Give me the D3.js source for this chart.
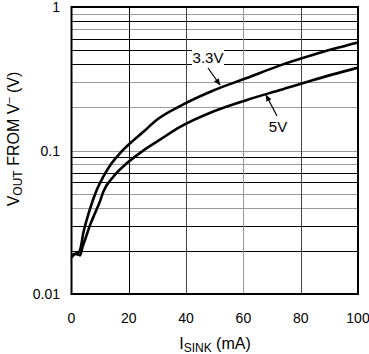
<!DOCTYPE html>
<html>
<head>
<meta charset="utf-8">
<script src="https://cdn.jsdelivr.net/npm/d3@7"></script>
<style>
  body { margin: 0; background: #fff; }
  text { font-family: "Liberation Sans", Arial, sans-serif; fill: #000; }
</style>
</head>
<body>
<div class="canvas"></div>
<script>
// data
const xTicks = [0, 20, 40, 60, 80, 100];
const yTicks = [0.01, 0.1, 1];
const yTickLabels = ['0.01', '0.1', '1'];
const minorY = [0.02, 0.03, 0.04, 0.05, 0.06, 0.07, 0.08, 0.09, 0.1, 0.2, 0.3, 0.4, 0.5, 0.6, 0.7, 0.8, 0.9];

const sink33 = [0, 1, 2.4, 3.3, 4.1, 5.3, 7.1, 8.8, 11.1, 14.0, 16.9, 20.4, 25.1, 29.7, 37.9, 49.5, 61.2, 72.8, 84.4, 100];
const vout33 = [0.0185, 0.0190, 0.0194, 0.0214, 0.0265, 0.0328, 0.0429, 0.0531, 0.0657, 0.0814, 0.0956, 0.112, 0.135, 0.163, 0.204, 0.262, 0.320, 0.392, 0.465, 0.565];

const sink5 = [0, 1.5, 3.0, 3.9, 5.1, 6.5, 8.2, 9.9, 11.1, 14.6, 19.3, 25.1, 30.9, 37.9, 49.5, 61.2, 72.8, 84.4, 100];
const vout5 = [0.0180, 0.0190, 0.0186, 0.0214, 0.0251, 0.0303, 0.0365, 0.0440, 0.0516, 0.0657, 0.0814, 0.100, 0.119, 0.146, 0.187, 0.225, 0.264, 0.310, 0.378];

const svg = d3.select('.canvas')
    .append('svg')
    .attr('width', 369)
    .attr('height', 354);

const x = d3.scaleLinear().domain([0, 100]).range([71.5, 358]);
const y = d3.scaleLog().domain([0.01, 1]).range([294, 7]);

// grid colours alternate black / grey like the scanned original
const greyY = [0.9, 0.7, 0.3, 0.2, 0.1, 0.08, 0.05, 0.04];
const gridColour = v => greyY.some(g => Math.abs(g - v) < 1e-9) ? '#9a9a9a' : '#000';

const grid = svg.append('g');
grid.selectAll('line.h')
    .data(minorY)
    .enter().append('line')
    .attr('x1', x(0)).attr('x2', x(100))
    .attr('y1', d => Math.round(y(d)) + 0.5)
    .attr('y2', d => Math.round(y(d)) + 0.5)
    .attr('stroke', d => gridColour(d))
    .attr('stroke-width', 1);

grid.selectAll('line.v')
    .data(xTicks.slice(1, -1))
    .enter().append('line')
    .attr('x1', d => Math.round(x(d)) + 0.5)
    .attr('x2', d => Math.round(x(d)) + 0.5)
    .attr('y1', y(1)).attr('y2', y(0.01))
    .attr('stroke', d => d === 60 ? '#9a9a9a' : (d === 20 ? '#000' : '#444'))
    .attr('stroke-width', 1);

// frame
svg.append('rect')
    .attr('x', x(0)).attr('y', y(1))
    .attr('width', x(100) - x(0))
    .attr('height', y(0.01) - y(1))
    .attr('fill', 'none')
    .attr('stroke', '#000')
    .attr('stroke-width', 2);

// tick labels
svg.append('g').selectAll('text')
    .data(xTicks)
    .enter().append('text')
    .attr('x', d => x(d))
    .attr('y', 323)
    .attr('text-anchor', 'middle')
    .attr('font-size', 14)
    .text(d => d);

svg.append('g').selectAll('text')
    .data(yTicks)
    .enter().append('text')
    .attr('x', 60)
    .attr('y', d => y(d) + 5)
    .attr('text-anchor', 'end')
    .attr('font-size', 14)
    .text((d, i) => yTickLabels[i]);

// axis titles
const xt = svg.append('text')
    .attr('x', 215)
    .attr('y', 349)
    .attr('text-anchor', 'middle')
    .attr('font-size', 16);
xt.append('tspan').text('I');
xt.append('tspan').attr('font-size', 12).attr('dy', 3).text('SINK');
xt.append('tspan').attr('dy', -3).text(' (mA)');

const yt = svg.append('text')
    .attr('transform', 'translate(19,139) rotate(-90)')
    .attr('text-anchor', 'middle')
    .attr('font-size', 16);
yt.append('tspan').text('V');
yt.append('tspan').attr('font-size', 12).attr('dy', 3).text('OUT');
yt.append('tspan').attr('dy', -3).text(' FROM V');
yt.append('tspan').attr('font-size', 11).attr('dy', -7).text('\u2013');
yt.append('tspan').attr('dy', 7).text(' (V)');

// curves
const line = d3.line()
    .x(d => x(d[0]))
    .y(d => y(d[1]))
    .curve(d3.curveMonotoneX);

svg.append('path')
    .datum(sink33.map((s, i) => [s, vout33[i]]))
    .attr('d', line)
    .attr('fill', 'none')
    .attr('stroke', '#000')
    .attr('stroke-width', 2.6);

svg.append('path')
    .datum(sink5.map((s, i) => [s, vout5[i]]))
    .attr('d', line)
    .attr('fill', 'none')
    .attr('stroke', '#000')
    .attr('stroke-width', 2.6);

// labels with arrows
svg.append('defs').append('marker')
    .attr('id', 'arr')
    .attr('viewBox', '0 0 10 10')
    .attr('refX', 9).attr('refY', 5)
    .attr('markerWidth', 7).attr('markerHeight', 7)
    .attr('markerUnits', 'userSpaceOnUse')
    .attr('orient', 'auto')
    .append('path')
    .attr('d', 'M0,1L10,5L0,9Z')
    .attr('fill', '#000');

svg.append('rect').attr('x', 192).attr('y', 47).attr('width', 32).attr('height', 19).attr('fill', '#fff');
svg.append('text').attr('x', 208).attr('y', 63).attr('text-anchor', 'middle').attr('font-size', 15).text('3.3V');
svg.append('line').attr('x1', 208).attr('y1', 68).attr('x2', 220).attr('y2', 85)
    .attr('stroke', '#000').attr('stroke-width', 1.2).attr('marker-end', 'url(#arr)');

svg.append('rect').attr('x', 267).attr('y', 117).attr('width', 22).attr('height', 17).attr('fill', '#fff');
svg.append('text').attr('x', 278).attr('y', 132).attr('text-anchor', 'middle').attr('font-size', 15).text('5V');
svg.append('line').attr('x1', 277).attr('y1', 116).attr('x2', 266).attr('y2', 95)
    .attr('stroke', '#000').attr('stroke-width', 1.2).attr('marker-end', 'url(#arr)');
</script>
</body>
</html>
